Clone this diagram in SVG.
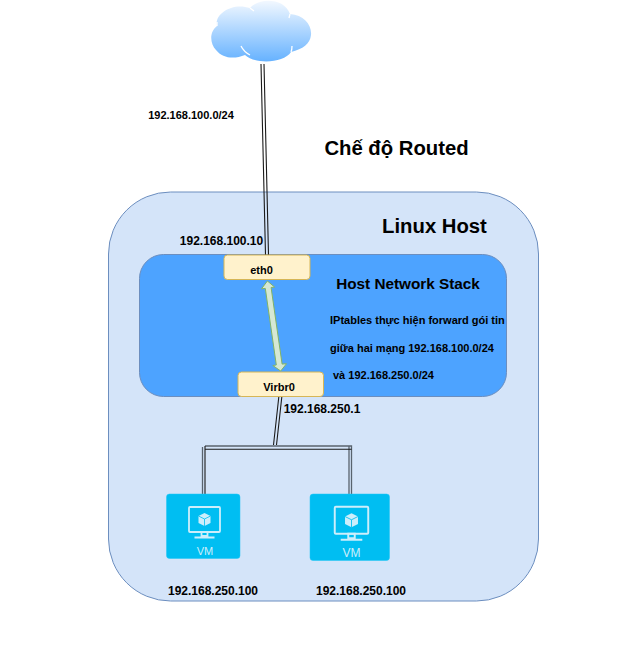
<svg xmlns="http://www.w3.org/2000/svg" width="633" height="646" viewBox="0 0 633 646">
<style>
text{font-family:"Liberation Sans",Arial,sans-serif;font-weight:bold;fill:#000;text-anchor:middle}
.s12{font-size:12px}.s11{font-size:11px}.s15{font-size:15.300px}.s20{font-size:20.300px}
.wire{fill:none;stroke:#1a1a1a;stroke-width:1.100}
.wireg{fill:none;stroke:#59636e;stroke-width:1.300}
.port{fill:#fff2cc;stroke:#d6b656;stroke-width:1}
.tile{fill:#00bef2;stroke:#20c4f4;stroke-width:.5}
.ico{fill:none;stroke:#cdeefb;stroke-width:1.800}
.icof{fill:#cdeefb}
.vm{font-family:"Liberation Sans",Arial,sans-serif;font-weight:normal;fill:#cdeefb;text-anchor:middle}
</style>
<defs>
<linearGradient id="cg" x1="0" y1="0" x2="0" y2="1"><stop offset="0" stop-color="#f2f8ff"/><stop offset="1" stop-color="#66b2ff"/></linearGradient>
<g id="mon">
<rect x="-15.500" y="-15" width="31" height="25" rx="1" class="ico"/>
<path d="M-3 10h6v4h-6zM-10 15.500h20" class="ico"/>
<path d="M0-9 6-6V1L0 4-6 1V-6Z" class="icof"/>
<path d="M-6-6 0-3 6-6M0-3V4" fill="none" stroke="#00bef2" stroke-width=".8"/>
</g>
</defs>
<rect width="633" height="646" fill="#fff"/>
<g id="host"><rect x="108.500" y="192" width="430" height="409" rx="62" fill="#d4e4f9" stroke="#6c8ebf" stroke-width="1"/></g>
<g id="stack"><rect x="139.500" y="254.500" width="367" height="142" rx="24" fill="#4da3ff" stroke="#6c8ebf" stroke-width="1"/></g>
<g id="connectors">
<path class="wire" d="M261 64 265.500 255M264 64 268.500 255"/>
<path class="wire" d="M278.800 397 273.500 445M281.800 397 276.500 445"/>
<path class="wireg" d="M205 446H351.500V494M202.500 447V494M349 446V494"/>
<path class="wire" d="M205 446V494M205 449.300H351.500"/>
<path d="M267.400 281 274.600 287 271.100 287.500 282.100 364.100 286.500 363.700 280.700 371 272.800 365.500 276.300 365 265.300 288.400 261.500 288.800Z" fill="#d5e8d4" stroke="#82b366" stroke-width="1"/>
</g>
<g id="cloud"><path d="M217 26C214 14 232 2 250 8C258-2 284-3 290 14C304 15 312 25 311 35C310 44 303 49 291 52C284 63 256 65 245 55C235 59 223 59 216 50C210 44 209 32 217 26Z" fill="url(#cg)"/>
<path d="M241 46C243 50 246 53 250 55M291 52C292 50 292 48 292 46M217 26 217 22M250 8 254 11M290 14 289 18" fill="none" stroke="#fff" stroke-width="1.300"/></g>
<g id="eth0"><rect class="port" x="224" y="255" width="86" height="24.500" rx="3.500"/><text class="s11" x="261.500" y="274">eth0</text></g>
<g id="virbr0"><rect class="port" x="238" y="372" width="85.500" height="24.500" rx="3.500"/><text class="s11" x="279" y="391">Virbr0</text></g>
<g id="vm1"><rect class="tile" x="166.500" y="494" width="73.500" height="64.500" rx="3"/><use href="#mon" x="204.500" y="522"/><text class="vm" font-size="11" x="205" y="555">VM</text></g>
<g id="vm2"><rect class="tile" x="310" y="494" width="79.500" height="66.500" rx="3"/><g transform="translate(351.500 523) scale(1.080)"><use href="#mon"/></g><text class="vm" font-size="12" x="351.500" y="557">VM</text></g>
<g id="labels">
<text class="s11" x="191" y="119">192.168.100.0/24</text>
<text class="s20" x="396.500" y="155">Chế độ Routed</text>
<text class="s20" x="434.500" y="233">Linux Host</text>
<text class="s12" x="221.500" y="245">192.168.100.10</text>
<text class="s15" x="408" y="289">Host Network Stack</text>
<text class="s11" style="text-anchor:start" x="330" y="324">IPtables thực hiện forward gói tin</text>
<text class="s11" style="text-anchor:start" x="330" y="352">giữa hai mạng 192.168.100.0/24</text>
<text class="s11" style="text-anchor:start" x="333" y="379">và 192.168.250.0/24</text>
<text class="s12" x="322" y="413">192.168.250.1</text>
<text class="s12" x="213" y="595">192.168.250.100</text>
<text class="s12" x="361" y="595">192.168.250.100</text>
</g>
</svg>
